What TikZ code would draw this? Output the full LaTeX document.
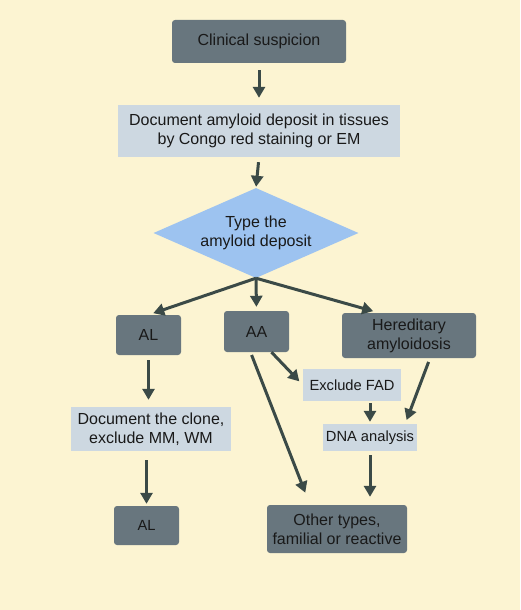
\documentclass[tikz,border=0pt]{standalone}
\usepackage{fontspec}
\setmainfont{Liberation Sans}
\usetikzlibrary{arrows.meta,shapes.geometric}

\definecolor{bgcream}{HTML}{FCF4D2}
\definecolor{darkbox}{HTML}{68767E}
\definecolor{lightbox}{HTML}{CDD8E1}
\definecolor{diamondblue}{HTML}{9DC3F0}
\definecolor{arrowgrey}{HTML}{3B4A47}

\tikzset{
  darkstep/.style={fill=darkbox,rounded corners=3pt,align=center,inner sep=0pt},
  lightstep/.style={fill=lightbox,align=center,inner sep=0pt},
  smalltext/.style={font=\fontsize{14.7}{17}\selectfont},
  flow/.style={->,draw=arrowgrey,line width=3pt},
}

\begin{document}
\begin{tikzpicture}[x=1pt,y=-1pt,>={Triangle[length=11pt,width=12pt]},
  every node/.style={font=\fontsize{16}{19}\selectfont,text=black!90}]
  \fill[bgcream] (0,0) rectangle (520,610);
  \useasboundingbox (0,0) rectangle (520,610);

  \node[darkstep,minimum width=174pt,minimum height=43pt] (clin) at (259,41.5) {Clinical suspicion};
  \node[lightstep,minimum width=282pt,minimum height=52pt] (doc) at (259,131)
    {Document amyloid deposit in tissues\\by Congo red staining or EM};
  \node[diamond,fill=diamondblue,aspect=2.28,inner sep=0pt,align=center,
    minimum width=205pt,minimum height=90pt] (type) at (256,233) {Type the\\amyloid deposit};

  \node[darkstep,minimum width=65pt,minimum height=40pt] (al) at (148.5,335) {AL};
  \node[darkstep,minimum width=65pt,minimum height=41pt] (aa) at (256.5,331.5) {AA};
  \node[darkstep,minimum width=134pt,minimum height=45pt] (her) at (409,335.5) {Hereditary\\amyloidosis};

  \node[lightstep,minimum width=160pt,minimum height=44pt] (clone) at (151,429)
    {Document the clone,\\exclude MM, WM};
  \node[darkstep,smalltext,minimum width=65pt,minimum height=39pt] (al2) at (146.5,525.5) {AL};
  \node[lightstep,smalltext,minimum width=98pt,minimum height=32pt] (fad) at (352,385) {Exclude FAD};
  \node[lightstep,smalltext,minimum width=94pt,minimum height=27pt] (dna) at (370,437.5) {DNA analysis};
  \node[darkstep,minimum width=140pt,minimum height=48pt] (other) at (337,529)
    {Other types,\\familial or reactive};

  % main line
  \draw[flow,shorten <=7pt,shorten >=7pt] (clin.south) -- (doc.north);
  \draw[flow,shorten <=5pt,shorten >=1pt] (doc.south) -- (type.north);
  \draw[flow,shorten >=5pt] (type.south) -- (al.north);
  \draw[flow,shorten >=4pt] (type.south) -- (aa.north);
  \draw[flow,shorten >=6pt] (type.south) -- ([xshift=-30pt]her.north);

  % AL branch
  \draw[flow,shorten <=5pt,shorten >=7pt] (al.south) -- (al.south |- clone.north);
  \draw[flow,shorten <=9pt,shorten >=2pt] (clone.south -| al2.north) -- (al2.north);

  % AA and hereditary branch
  \draw[flow,shorten <=3pt,shorten >=13pt] ([xshift=-6pt]aa.south) -- ([xshift=-27pt]other.north);
  \draw[flow,shorten >=5pt] ([xshift=15pt]aa.south) -- (fad.west);
  \draw[flow,shorten <=4pt,shorten >=4pt] ([xshift=21pt]her.south) -- ([xshift=-12pt]dna.north east);
  \draw[flow,shorten <=2pt,shorten >=2pt] (fad.south -| dna.north) -- (dna.north);
  \draw[flow,shorten <=4pt,shorten >=8pt] (dna.south) -- (dna.south |- other.north);
\end{tikzpicture}
\end{document}
